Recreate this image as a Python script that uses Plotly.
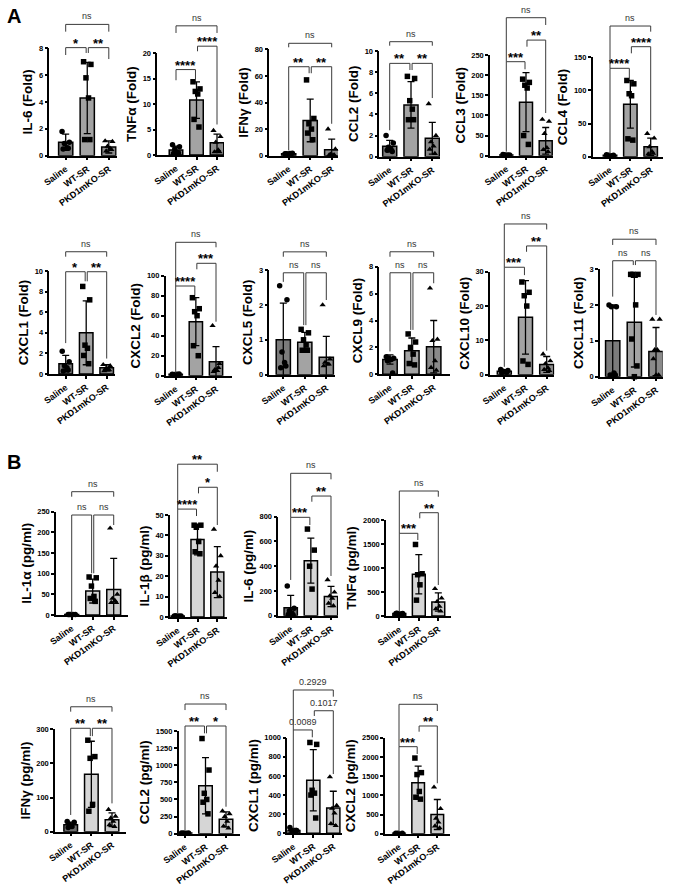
import plotly.graph_objects as go

W, H = 676, 887
FONT = "Liberation Sans"
GROUPS = ["Saline", "WT-SR", "PKD1mKO-SR"]
SYMBOLS = ["circle", "square", "triangle-up"]
COLORS_A = ["#7b7b7b", "#a3a3a3", "#8a8a8a"]
COLORS_B = ["#6e6e6e", "#d6d6d6", "#cacaca"]
# fixed horizontal spread of the dots inside each bar
SPREAD = [-0.17, 0.17, -0.06, 0.06, -0.12, 0.12, 0.0]

# ---- panel A (fold change) ----
IL6_F = dict(mean=[1.0, 4.3, 0.65], sd=[0.6, 2.65, 0.45],
             pts=[[1.8, 1.0, 0.9, 0.6, 0.5, 0.55], [7.0, 6.8, 5.8, 4.3, 1.2, 1.2], [1.1, 1.05, 0.7, 0.55, 0.35, 0.45]])
TNF_F = dict(mean=[1.0, 10.8, 2.4], sd=[0.75, 3.6, 1.7],
             pts=[[2.0, 1.6, 1.2, 0.5, 0.3, 0.4], [14.4, 13.0, 12.5, 12.0, 7.0, 5.5], [4.8, 3.6, 2.5, 1.0, 0.6, 0.6]])
IFNG_F = dict(mean=[1.5, 26.5, 4.5], sd=[0.5, 16.0, 8.0],
              pts=[[1.5, 1.8, 1.2, 1.6, 1.4], [57, 28, 24, 20, 17, 12], [20, 5, 1, 0.5, 0.5, 0.5]])
CCL2_F = dict(mean=[1.0, 4.9, 1.75], sd=[0.55, 2.2, 1.5],
              pts=[[2.0, 1.3, 0.9, 0.7, 0.6, 0.5], [7.6, 7.4, 5.3, 4.5, 3.5, 3.5], [5.0, 2.0, 1.4, 1.0, 0.7, 0.3]])
CCL3_F = dict(mean=[2.0, 133, 37], sd=[1.0, 73, 33],
              pts=[[3, 2, 2, 1.5, 1.5], [190, 182, 175, 168, 50, 28], [90, 85, 55, 20, 15, 10]])
CCL4_F = dict(mean=[2.0, 79, 15], sd=[1.0, 36, 13],
              pts=[[3, 2, 2, 1.5, 1], [115, 110, 95, 92, 27, 25], [35, 28, 15, 8, 4, 5]])
CXCL1_F = dict(mean=[1.0, 4.0, 0.6], sd=[0.8, 3.1, 0.3],
               pts=[[2.2, 1.2, 0.8, 0.6, 0.3, 0.4], [8.5, 7.2, 2.8, 2.5, 1.8, 1.0], [0.9, 0.8, 0.5, 0.4, 0.3, 0.4]])
CXCL2_F = dict(mean=[1.5, 54, 14], sd=[0.5, 24, 15],
               pts=[[1.5, 1.8, 1.2, 1.5], [78, 67, 64, 60, 30, 20], [50, 12, 6, 5, 4, 8]])
CXCL5_F = dict(mean=[1.0, 0.93, 0.5], sd=[1.05, 0.28, 0.6],
               pts=[[2.55, 2.15, 0.65, 0.35, 0.2, 0.25], [1.3, 1.2, 1.0, 0.85, 0.7, 0.7], [2.0, 0.45, 0.35, 0.3, 0.25, 0.3]])
CXCL9_F = dict(mean=[1.1, 1.75, 2.05], sd=[0.35, 0.95, 1.95],
               pts=[[1.3, 1.2, 1.2, 1.1, 1.0, 0.1], [3.0, 2.4, 2.0, 1.5, 0.8, 0.7], [6.4, 2.6, 2.5, 1.0, 0.5, 0.3]])
CXCL10_F = dict(mean=[1.0, 16.7, 3.0], sd=[0.4, 10.7, 2.3],
                pts=[[1.5, 1.2, 1.0, 0.8, 0.6, 0.7], [27, 24, 23, 20, 4, 3], [6, 4, 3.2, 2, 1.5, 1.2]])
CXCL11_F = dict(mean=[1.0, 1.52, 0.7], sd=[1.0, 1.25, 0.67],
                pts=[[2.0, 1.95, 1.95, 0.1, 0.05, 0.05], [2.85, 2.85, 2.85, 2.0, 1.05, 0.3, 0.0],
                     [1.6, 1.6, 0.75, 0.75, 0.5, 0.05, 0.05]])

# ---- panel B (pg/ml) ----
IL1A_P = dict(mean=[1, 58, 62], sd=[0.5, 29, 75],
              pts=[[1, 1, 1, 1, 1], [92, 90, 70, 45, 40, 33], [210, 50, 40, 35, 30, 30]])
IL1B_P = dict(mean=[0.5, 38, 22], sd=[0.3, 7.5, 12.5],
              pts=[[0.5, 0.5, 0.5, 0.5, 0.5], [45, 45, 44, 37, 32, 31], [43, 30, 25, 18, 12, 10]])
IL6_P = dict(mean=[65, 445, 155], sd=[100, 182, 82],
             pts=[[240, 60, 40, 20, 10, 5], [700, 530, 400, 215], [290, 190, 160, 140, 100, 80]])
TNF_P = dict(mean=[50, 870, 290], sd=[15, 410, 190],
             pts=[[50, 50, 45, 40, 55, 30], [1490, 880, 860, 650, 330], [570, 370, 300, 200, 150, 100]])
IFNG_P = dict(mean=[20, 168, 35], sd=[8, 97, 20],
              pts=[[30, 28, 20, 15, 12], [268, 220, 215, 80, 60], [65, 45, 40, 30, 20, 15]])
CCL2_P = dict(mean=[10, 700, 210], sd=[5, 410, 110],
              pts=[[10, 10, 10, 5], [1390, 930, 590, 500, 460, 290], [330, 290, 250, 180, 110, 80]])
CXCL1_P = dict(mean=[30, 555, 265], sd=[20, 320, 175],
               pts=[[60, 30, 20, 10], [950, 930, 450, 420, 400, 160], [590, 290, 260, 210, 100, 80]])
CXCL2_P = dict(mean=[10, 1330, 500], sd=[5, 430, 390],
               pts=[[10, 10, 10], [1970, 1590, 1540, 1100, 950, 900], [1210, 650, 400, 300, 200, 150]])

# comparison brackets: (group i, group j, bracket level, left leg end, right leg end, label)
BR = {
    "IL6_F": [(0, 2, 9.78, 9.24, 9.24, "ns"), (0, 1, 8.05, 7.5, 7.65, "*"), (1, 2, 8.05, 7.65, 7.2, "**")],
    "TNF_F": [(0, 2, 25.4, 24.0, 24.0, "ns"), (1, 2, 21.4, 20.4, 6.0, "****"), (0, 1, 16.8, 14.7, 14.9, "****")],
    "IFNG_F": [(0, 2, 84.5, 81.5, 81.5, "ns"), (0, 1, 66.9, 4.0, 62.0, "**"), (1, 2, 66.9, 62.0, 24.0, "**")],
    "CCL2_F": [(0, 2, 10.88, 10.5, 10.5, "ns"), (0, 1, 8.83, 2.5, 8.2, "**"), (1, 2, 8.83, 8.2, 5.55, "**")],
    "CCL3_F": [(0, 2, 342.6, 233.4, 324.5, "ns"), (1, 2, 287, 270.6, 106, "**"), (0, 1, 233.4, 10, 214.5, "***")],
    "CCL4_F": [(0, 2, 197.2, 133.4, 188.7, "ns"), (1, 2, 166, 156, 40, "****"), (0, 1, 133.4, 4, 118.3, "****")],
    "CXCL1_F": [(0, 2, 11.87, 11.39, 11.39, "ns"), (0, 1, 9.93, 3.0, 9.0, "*"), (1, 2, 9.93, 9.0, 1.5, "**")],
    "CXCL2_F": [(0, 2, 133.4, 89.7, 128.4, "ns"), (1, 2, 112.4, 106.4, 54, "***"), (0, 1, 89.7, 3, 80.7, "****")],
    "CXCL5_F": [(0, 2, 3.52, 3.38, 3.38, "ns"), (0, 1, 2.92, 2.66, 1.42, "ns"), (1, 2, 2.92, 1.42, 2.14, "ns")],
    "CXCL9_F": [(0, 2, 9.11, 8.74, 8.74, "ns"), (0, 1, 7.55, 1.7, 3.3, "ns"), (1, 2, 7.55, 3.3, 6.77, "ns")],
    "CXCL10_F": [(0, 2, 43.9, 31.3, 42.3, "ns"), (1, 2, 37.5, 35.8, 7.0, "**"), (0, 1, 31.3, 2.3, 29, "***")],
    "CXCL11_F": [(0, 2, 3.83, 3.67, 3.67, "ns"), (0, 1, 3.23, 2.23, 3.11, "ns"), (1, 2, 3.23, 3.11, 1.72, "ns")],
    "IL1A_P": [(0, 2, 298.4, 286.3, 286.3, "ns"), (0, 1, 242, 5.6, 101, "ns"), (1, 2, 242, 101, 217.8, "ns")],
    "IL1B_P": [(0, 2, 74.9, 52.9, 71.2, "**"), (1, 2, 63.6, 60.6, 45.1, "*"), (0, 1, 52.9, 1.8, 49.5, "****")],
    "IL6_P": [(0, 2, 1150.7, 795, 1102, "ns"), (1, 2, 967, 921, 321, "**"), (0, 1, 795, 289, 733, "***")],
    "TNF_P": [(0, 2, 2604, 1723, 2485, "ns"), (1, 2, 2152, 2035, 646, "**"), (0, 1, 1723, 90, 1583, "***")],
    "IFNG_P": [(0, 2, 366, 351.6, 351.6, "ns"), (0, 1, 303, 49, 280, "**"), (1, 2, 303, 280, 83, "**")],
    "CCL2_P": [(0, 2, 1894, 1806, 1806, "ns"), (0, 1, 1573, 50, 1466, "**"), (1, 2, 1573, 1466, 394, "*")],
    "CXCL1_P": [(0, 2, 1499, 1081, 1429, "0.2929"), (1, 2, 1282, 1227, 620, "0.1017"),
                (0, 1, 1081, 52, 1004, "0.0089")],
    "CXCL2_P": [(0, 2, 3370, 2266, 3195, "ns"), (1, 2, 2805, 2656, 1313, "**"), (0, 1, 2266, 50, 2076, "***")],
}

# name, data, y title, y ticks, colour set, pixel box (axis left, first bar, last bar, axis right, top, zero)
PANELS = [
    ("IL6_F", IL6_F, "IL-6 (Fold)", [0, 2, 4, 6, 8], COLORS_A, (49.3, 65.7, 108.8, 116.7, 48.3, 155.7)),
    ("TNF_F", TNF_F, "TNFα (Fold)", [0, 5, 10, 15, 20], COLORS_A, (157.3, 176, 217, 224, 53.3, 155)),
    ("IFNG_F", IFNG_F, "IFNγ (Fold)", [0, 20, 40, 60, 80], COLORS_A, (269.3, 288.7, 331.7, 338, 49.3, 155.7)),
    ("CCL2_F", CCL2_F, "CCL2 (Fold)", [0, 2, 4, 6, 8, 10], COLORS_A, (379.3, 389.7, 432.3, 440, 51, 156.7)),
    ("CCL3_F", CCL3_F, "CCL3 (Fold)", [0, 50, 100, 150, 200, 250], COLORS_A, (490, 506.3, 545.7, 553.3, 55, 155.7)),
    ("CCL4_F", CCL4_F, "CCL4 (Fold)", [0, 50, 100, 150], COLORS_A, (592.7, 610, 650.7, 662.7, 57.3, 156.7)),
    ("CXCL1_F", CXCL1_F, "CXCL1 (Fold)", [0, 2, 4, 6, 8, 10], COLORS_A, (49.3, 65.7, 106.7, 115, 271, 374)),
    ("CXCL2_F", CXCL2_F, "CXCL2 (Fold)", [0, 20, 40, 60, 80, 100], COLORS_A, (165.7, 175.7, 216, 231.7, 275.7, 375.7)),
    ("CXCL5_F", CXCL5_F, "CXCL5 (Fold)", [0, 1, 2, 3], COLORS_A, (269.3, 283.3, 326.3, 335, 270, 374.7)),
    ("CXCL9_F", CXCL9_F, "CXCL9 (Fold)", [0, 2, 4, 6, 8], COLORS_A, (379.3, 390, 433.7, 450, 266.7, 374.3)),
    ("CXCL10_F", CXCL10_F, "CXCL10 (Fold)", [0, 10, 20, 30], COLORS_A, (490, 504.3, 546.7, 554.3, 271.7, 374.7)),
    ("CXCL11_F", CXCL11_F, "CXCL11 (Fold)", [0, 1, 2, 3], COLORS_A, (600, 612.7, 656, 662.7, 269, 376.7)),
    ("IL1A_P", IL1A_P, "IL-1α (pg/ml)", [0, 50, 100, 150, 200, 250], COLORS_B, (56, 71.7, 113.7, 128.3, 511.7, 615)),
    ("IL1B_P", IL1B_P, "IL-1β (pg/ml)", [0, 10, 20, 30, 40, 50], COLORS_B, (170, 177.7, 217.3, 226.7, 515, 617)),
    ("IL6_P", IL6_P, "IL-6 (pg/ml)", [0, 200, 400, 600, 800], COLORS_B, (278.3, 290.7, 331, 338, 516.7, 615.7)),
    ("TNF_P", TNF_P, "TNFα (pg/ml)", [0, 500, 1000, 1500, 2000], COLORS_B, (386, 399.3, 438.3, 450.7, 520, 616)),
    ("IFNG_P", IFNG_P, "IFNγ (pg/ml)", [0, 100, 200, 300], COLORS_B, (55, 70.7, 112, 126, 729.3, 831.7)),
    ("CCL2_P", CCL2_P, "CCL2 (pg/ml)", [0, 250, 500, 750, 1000, 1250, 1500], COLORS_B, (178.7, 185, 226, 240, 731, 833.7)),
    ("CXCL1_P", CXCL1_P, "CXCL1 (pg/ml)", [0, 200, 400, 600, 800, 1000], COLORS_B, (287.3, 293.3, 333.3, 341.7, 737.7, 833.3)),
    ("CXCL2_P", CXCL2_P, "CXCL2 (pg/ml)", [0, 500, 1000, 1500, 2000, 2500], COLORS_B, (385, 399, 437.3, 450, 737.7, 833.7)),
]

fig = go.Figure()
layout = {}
shapes = []
annots = []

for k, (key, d, ytitle, yticks, colors, box) in enumerate(PANELS, start=1):
    left, c0, c2, right, top_px, zero_px = box
    sp = (c2 - c0) / 2
    xr = [(left - c0) / sp, (right - c0) / sp]
    yr = [0, yticks[-1]]
    xdom = [left / W, right / W]
    ydom = [1 - zero_px / H, 1 - top_px / H]
    sfx = "" if k == 1 else str(k)

    fig.add_trace(go.Bar(
        x=[0, 1, 2], y=d["mean"], width=0.66,
        marker=dict(color=colors, line=dict(color="black", width=1.5)),
        error_y=dict(type="data", array=d["sd"], color="black", thickness=1.3, width=3.5),
        xaxis="x" + sfx, yaxis="y" + sfx, showlegend=False, cliponaxis=False,
    ))
    for g in range(3):
        vals = d["pts"][g]
        fig.add_trace(go.Scatter(
            x=[g + SPREAD[n % len(SPREAD)] for n in range(len(vals))], y=vals,
            mode="markers", marker=dict(symbol=SYMBOLS[g], size=5.5, color="black"),
            xaxis="x" + sfx, yaxis="y" + sfx, showlegend=False, cliponaxis=False,
        ))

    layout["xaxis" + sfx] = dict(
        domain=xdom, range=xr, anchor="y" + sfx, tickvals=[0, 1, 2], ticktext=GROUPS,
        tickangle=-36, showline=True, linecolor="black", linewidth=1.5,
        ticks="outside", ticklen=3, tickwidth=1.5, tickcolor="black",
        tickfont=dict(family=FONT, size=9, color="black", weight="bold"),
        showgrid=False, zeroline=False, fixedrange=True, automargin=False,
    )
    layout["yaxis" + sfx] = dict(
        domain=ydom, range=yr, anchor="x" + sfx, tickvals=yticks,
        showline=True, linecolor="black", linewidth=1.5,
        ticks="outside", ticklen=3, tickwidth=1.5, tickcolor="black",
        tickfont=dict(family=FONT, size=7.5, color="black", weight="bold"),
        title=dict(text=ytitle, font=dict(family=FONT, size=13.5, color="black", weight="bold"), standoff=3),
        showgrid=False, zeroline=False, fixedrange=True, automargin=False,
    )

    def xp(v, xr=xr, xdom=xdom):
        return xdom[0] + (v - xr[0]) / (xr[1] - xr[0]) * (xdom[1] - xdom[0])

    def yp(v, yr=yr, ydom=ydom):
        return ydom[0] + (v - yr[0]) / (yr[1] - yr[0]) * (ydom[1] - ydom[0])

    for i, j, lvl, yl, yrr, lab in BR[key]:
        xa = i + (0.05 if i == 1 else 0)
        xb = j - (0.05 if j == 1 else 0)
        path = (f"M {xp(xa):.5f} {yp(yl):.5f} L {xp(xa):.5f} {yp(lvl):.5f} "
                f"L {xp(xb):.5f} {yp(lvl):.5f} L {xp(xb):.5f} {yp(yrr):.5f}")
        shapes.append(dict(type="path", xref="paper", yref="paper", path=path,
                           line=dict(color="#3a3a3a", width=1)))
        star = lab.startswith("*")
        annots.append(dict(
            x=xp((xa + xb) / 2), y=yp(lvl), xref="paper", yref="paper",
            text=lab, showarrow=False, xanchor="center", yanchor="bottom",
            yshift=-5 if star else 1,
            font=dict(family=FONT, size=13 if star else 9, color="black" if star else "#333333",
                      weight="bold" if star else "normal"),
        ))

for letter, ypx in (("A", 16), ("B", 462)):
    annots.append(dict(x=14 / W, y=1 - ypx / H, xref="paper", yref="paper", text=letter,
                       showarrow=False, xanchor="center", yanchor="middle",
                       font=dict(family=FONT, size=20, color="black", weight="bold")))

fig.update_layout(
    width=W, height=H,
    margin=dict(l=0, r=0, t=0, b=0, autoexpand=False),
    paper_bgcolor="white", plot_bgcolor="white",
    shapes=shapes, annotations=annots,
    **layout,
)

fig.write_html("out.html", config={"displayModeBar": False},
               post_script="document.body.style.margin='0';")
